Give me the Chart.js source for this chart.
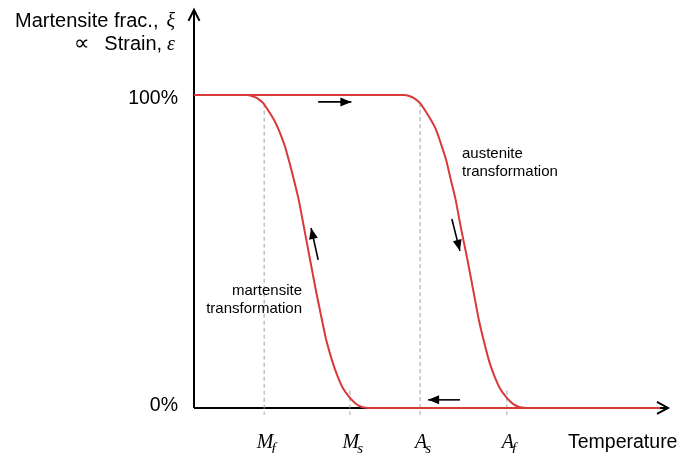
<!DOCTYPE html>
<html>
<head>
<meta charset="utf-8">
<script src="https://cdn.jsdelivr.net/npm/chart.js"></script>
<style>
    html, body { margin: 0; padding: 0; background: #fff; }
    #wrap { width: 686px; height: 453px; }
</style>
</head>
<body>
<div id="wrap"><canvas id="smaChart" width="686" height="453"></canvas></div>
<script>
// Temperature in arbitrary units, martensite fraction in %
const heatingTemp = [0, 44.3, 45.4, 46.4, 47.7, 48.7, 50.0, 51.1, 52.2, 53.2, 54.2, 55.2, 56.4, 57.7, 58.9, 60.1, 61.1, 62.2, 63.3, 64.5, 66.0, 67.3, 68.6, 70.6, 98.3];
const heatingFrac = [100, 100, 99.7, 99.0, 97.4, 95.2, 92.0, 88.8, 84.0, 79.2, 72.8, 66.5, 56.9, 47.3, 37.7, 28.1, 21.7, 15.3, 10.5, 6.4, 3.2, 1.3, 0.3, 0, 0];

const coolingTemp = [0, 11.2, 12.2, 13.3, 14.6, 15.6, 16.9, 17.9, 19.1, 20.0, 21.1, 22.1, 23.3, 24.5, 25.7, 27.0, 27.9, 29.1, 30.2, 31.4, 32.9, 34.2, 35.4, 37.1, 98.3];
const coolingFrac = [100, 100, 99.7, 99.0, 97.4, 95.2, 92.0, 88.8, 84.0, 79.2, 72.8, 66.5, 56.9, 47.3, 37.7, 28.1, 21.7, 15.3, 10.5, 6.4, 3.2, 1.3, 0.3, 0, 0];

// transition temperatures Mf, Ms, As, Af
const transitionNames = ['M', 'M', 'A', 'A'];
const transitionSubs = ['f', 's', 's', 'f'];
const transitionTemps = [14.8, 32.9, 47.7, 66.0];
const transitionFrac = [97.2, 5.6, 97.4, 5.6];

const yTickValues = [0, 100];
const yTickLabels = ['0%', '100%'];

const sans = '"Liberation Sans", Arial, sans-serif';
const serif = '"Liberation Serif", "Times New Roman", serif';
const red = '#d83a3a';

const toXY = (xs, ys) => xs.map((x, i) => ({ x, y: ys[i] }));

const dashedSets = transitionTemps.map((t, i) => ({
    data: [{ x: t, y: transitionFrac[i] }, { x: t, y: -2.2 }],
    borderColor: '#a0a0a0',
    borderWidth: 1,
    borderDash: [4, 3],
    pointRadius: 0,
    showLine: true,
    order: 2
}));

function arrowHead(ctx, x1, y1, x2, y2, len, half) {
    const a = Math.atan2(y2 - y1, x2 - x1);
    const c = Math.cos(a), s = Math.sin(a);
    ctx.beginPath();
    ctx.moveTo(x2, y2);
    ctx.lineTo(x2 - len * c + half * s, y2 - len * s - half * c);
    ctx.lineTo(x2 - len * c - half * s, y2 - len * s + half * c);
    ctx.closePath();
    ctx.fill();
}

function arrow(ctx, x1, y1, x2, y2) {
    ctx.lineWidth = 1.6;
    ctx.beginPath();
    ctx.moveTo(x1, y1);
    ctx.lineTo(x2, y2);
    ctx.stroke();
    arrowHead(ctx, x1, y1, x2, y2, 11, 4.5);
}

const axesPlugin = {
    id: 'axes',
    beforeDatasetsDraw(chart) {
        const ctx = chart.ctx;
        const xs = chart.scales.x, ys = chart.scales.y;
        const x0 = xs.getPixelForValue(0), y0 = ys.getPixelForValue(0);
        const yTop = ys.getPixelForValue(127.2), xEnd = xs.getPixelForValue(100);
        ctx.save();
        ctx.strokeStyle = '#000';
        ctx.lineWidth = 2;
        ctx.beginPath();
        ctx.moveTo(x0, y0);
        ctx.lineTo(x0, yTop + 1);
        ctx.moveTo(x0, y0);
        ctx.lineTo(xEnd - 1, y0);
        ctx.stroke();
        // open arrow heads
        ctx.lineWidth = 2;
        ctx.beginPath();
        ctx.moveTo(x0 - 5.5, yTop + 11);
        ctx.lineTo(x0, yTop);
        ctx.lineTo(x0 + 5.5, yTop + 11);
        ctx.moveTo(xEnd - 11, y0 - 6);
        ctx.lineTo(xEnd, y0);
        ctx.lineTo(xEnd - 11, y0 + 6);
        ctx.stroke();
        ctx.restore();
    },
    afterDatasetsDraw(chart) {
        const ctx = chart.ctx;
        const xs = chart.scales.x, ys = chart.scales.y;
        const px = v => xs.getPixelForValue(v);
        const py = v => ys.getPixelForValue(v);
        const x0 = px(0);
        ctx.save();
        ctx.fillStyle = '#000';
        ctx.strokeStyle = '#000';

        // y tick labels
        ctx.font = '19.5px ' + sans;
        ctx.textAlign = 'right';
        ctx.textBaseline = 'alphabetic';
        yTickValues.forEach((v, i) => {
            ctx.fillText(yTickLabels[i], x0 - 16, py(v) + (v === 0 ? 3 : 9));
        });

        // y axis title
        const right = x0 - 19;
        const title = [['Martensite frac.,', 'ξ', 27, 8], ['Strain,', 'ε', 50, 5]];
        title.forEach(([txt, sym, base, gap]) => {
            ctx.font = 'italic 20px ' + serif;
            const w = ctx.measureText(sym).width;
            ctx.textAlign = 'right';
            ctx.fillText(sym, right, base);
            ctx.font = '20px ' + sans;
            ctx.fillText(txt, right - w - gap, base);
        });
        ctx.font = '22px "DejaVu Sans", sans-serif';
        ctx.textAlign = 'left';
        ctx.fillText('∝', 74, 50);

        // x axis title
        ctx.font = '19.5px ' + sans;
        ctx.textAlign = 'left';
        ctx.fillText('Temperature', 568, 448);

        // transition temperature labels
        transitionTemps.forEach((t, i) => {
            const x = px(t) + 1;
            ctx.font = 'italic 20px ' + serif;
            const w = ctx.measureText(transitionNames[i]).width;
            ctx.textAlign = 'left';
            ctx.fillText(transitionNames[i], x - w / 2, 448);
            ctx.font = 'italic 15px ' + serif;
            ctx.fillText(transitionSubs[i], x + w / 2 - 2, 453);
        });

        // region notes
        ctx.font = '15px ' + sans;
        ctx.textAlign = 'right';
        ctx.fillText('martensite', 302, 295);
        ctx.fillText('transformation', 302, 313);
        ctx.textAlign = 'left';
        ctx.fillText('austenite', 462, 158);
        ctx.fillText('transformation', 462, 176);

        // direction arrows
        arrow(ctx, px(26.2), py(97.8), px(33.2), py(97.8));
        arrow(ctx, px(56.1), py(2.6), px(49.4), py(2.6));
        arrow(ctx, px(26.2), py(47.3), px(24.7), py(57.5));
        arrow(ctx, px(54.4), py(60.4), px(56.1), py(50.2));
        ctx.restore();
    }
};

new Chart(document.getElementById('smaChart'), {
    type: 'scatter',
    data: {
        datasets: [
            {
                data: toXY(heatingTemp, heatingFrac),
                borderColor: red,
                borderWidth: 2,
                pointRadius: 0,
                showLine: true,
                tension: 0.2,
                order: 0
            },
            {
                data: toXY(coolingTemp, coolingFrac),
                borderColor: red,
                borderWidth: 2,
                pointRadius: 0,
                showLine: true,
                tension: 0.2,
                order: 1
            },
            ...dashedSets
        ]
    },
    options: {
        responsive: false,
        animation: false,
        devicePixelRatio: 1,
        layout: { padding: 0 },
        plugins: {
            legend: { display: false },
            tooltip: { enabled: false },
            title: { display: false }
        },
        scales: {
            x: { type: 'linear', min: -40.93, max: 103.8, display: false },
            y: { type: 'linear', min: -14.38, max: 130.35, display: false }
        }
    },
    plugins: [axesPlugin]
});
</script>
</body>
</html>
